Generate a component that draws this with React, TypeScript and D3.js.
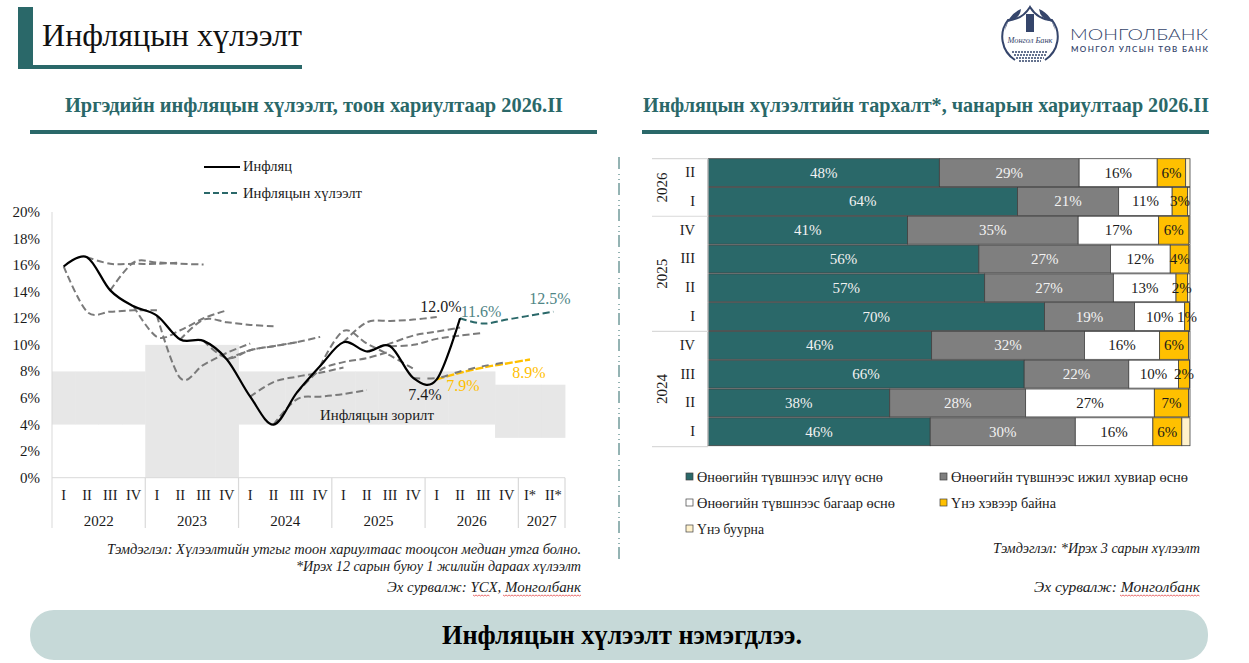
import * as d3 from 'd3';
import React, { useEffect, useRef } from 'react';

const SERIF = '"Liberation Serif", "DejaVu Serif", serif';
const TEAL = '#2a6869';

// left chart
const quarters = ['I', 'II', 'III', 'IV', 'I', 'II', 'III', 'IV', 'I', 'II', 'III', 'IV', 'I', 'II', 'III', 'IV', 'I', 'II', 'III', 'IV', 'I*', 'II*'];
const years = [
  { year: '2022', n: 4 },
  { year: '2023', n: 4 },
  { year: '2024', n: 4 },
  { year: '2025', n: 4 },
  { year: '2026', n: 4 },
  { year: '2027', n: 2 },
];
const targetLow = [4, 4, 4, 4, 0, 0, 0, 0, 4, 4, 4, 4, 4, 4, 4, 4, 4, 4, 4, 3, 3, 3];
const targetHigh = [8, 8, 8, 8, 10, 10, 10, 10, 8, 8, 8, 8, 8, 8, 8, 8, 8, 8, 8, 7, 7, 7];
const inflation = [15.9, 16.6, 14.1, 12.9, 12.2, 10.4, 10.3, 8.9, 6.1, 4.0, 6.4, 8.4, 10.2, 9.5, 9.9, 7.5, 7.4, 12.0];
// each row starts one quarter later than the one above
const pastExpectations = [
  [15.9, 12.5, 12.5, 12.6, 12.6],
  [16.6, 16.1, 16.1, 16.1, 16.2],
  [14.1, 16.2, 16.2, 16.1, 16.05],
  [12.9, 10.6, 11.1, 12.0, 12.6],
  [12.2, 7.5, 8.5, 9.4, 10.1],
  [10.4, 11.9, 11.7, 11.5, 11.4],
  [10.3, 9.0, 9.6, 9.9, 10.2],
  [8.9, 9.6, 9.9, 10.2, 10.6],
  [6.1, 7.2, 7.6, 7.9, 8.3],
  [4.0, 5.9, 6.1, 6.3, 6.6],
  [6.4, 8.1, 8.7, 9.0, 9.5],
  [8.4, 11.05, 10.1, 9.2, 8.2],
  [10.2, 11.7, 11.8, 11.9, 12.1],
  [9.5, 10.1, 10.7, 11.0, 11.3],
  [9.9, 10.0, 10.45, 10.7, 10.9],
  [7.5, 7.5, 8.0, 8.4, 8.7],
];
const yellowExpectation = [7.4, 7.9, 8.3, 8.6, 8.9];
const tealExpectation = [12.0, 11.6, 11.9, 12.2, 12.5];
const yTicks = [0, 2, 4, 6, 8, 10, 12, 14, 16, 18, 20];

// right chart, top row first
const rowYears = [
  { year: '2026', n: 2 },
  { year: '2025', n: 4 },
  { year: '2024', n: 4 },
];
const rowQuarters = ['II', 'I', 'IV', 'III', 'II', 'I', 'IV', 'III', 'II', 'I'];
const muchHigher = [48.0, 64.2, 41.4, 56.2, 57.4, 69.8, 46.4, 65.6, 37.7, 46.1];
const sameRate = [29.0, 21.0, 35.4, 27.3, 26.7, 18.7, 31.7, 21.7, 28.2, 30.1];
const lessHigher = [16.2, 11.1, 16.7, 12.4, 13.0, 10.4, 15.6, 10.3, 26.7, 16.1];
const noChange = [5.9, 3.2, 6.3, 3.9, 2.4, 1.0, 6.0, 2.3, 7.1, 6.0];
const decrease = [0.9, 0.5, 0.2, 0.2, 0.5, 0.1, 0.3, 0.1, 0.3, 1.7];
const stackKeys = ['muchHigher', 'sameRate', 'lessHigher', 'noChange', 'decrease'];
const stackColors = [TEAL, '#7f7f7f', '#ffffff', '#ffc000', '#fff2cc'];
const stackLabelColors = ['#f2f2f2', '#f2f2f2', '#1a1a1a', '#1a1a1a', 'none'];
const legendLabels = [
  'Өнөөгийн түвшнээс илүү өснө',
  'Өнөөгийн түвшнээс ижил хувиар өснө',
  'Өнөөгийн түвшнээс багаар өснө',
  'Үнэ хэвээр байна',
  'Үнэ буурна',
];

export default function App() {
  const ref = useRef<SVGSVGElement>(null);

  useEffect(() => {
    if (!ref.current) return;
    const svg = d3.select(ref.current);
    svg.selectAll('*').remove();
    svg.attr('font-family', SERIF).attr('fill', '#1a1a1a');

    const text = (
      str: string,
      x: number,
      y: number,
      size: number,
      opts: { anchor?: string; fill?: string; weight?: string; style?: string; len?: number } = {}
    ) => {
      const t = svg.append('text')
        .attr('x', x)
        .attr('y', y)
        .attr('font-size', size)
        .attr('text-anchor', opts.anchor || 'start')
        .attr('fill', opts.fill || '#1a1a1a')
        .attr('font-weight', opts.weight || 'normal')
        .attr('font-style', opts.style || 'normal')
        .text(str);
      if (opts.len) t.attr('textLength', opts.len).attr('lengthAdjust', 'spacingAndGlyphs');
      return t;
    };

    // title block
    svg.append('rect').attr('x', 18).attr('y', 7).attr('width', 15).attr('height', 62).attr('fill', TEAL);
    svg.append('rect').attr('x', 18).attr('y', 65).attr('width', 284).attr('height', 4).attr('fill', TEAL);
    text('Инфляцын хүлээлт', 42, 46, 31, { len: 260, fill: '#111' });

    // logo
    const NAVY = '#35456b';
    const logo = svg.append('g').attr('stroke', NAVY).attr('fill', 'none');
    logo.append('path')
      .attr('d', 'M1015 60 A27.5 27.5 0 0 1 1008 20 Q1022 20 1030 7 Q1038 20 1052 20 A27.5 27.5 0 0 1 1045 60')
      .attr('stroke-width', 2);
    logo.append('path')
      .attr('d', 'M1005 30 A27 27 0 0 1 1021 9 Q1020 19 1008 22 Z M1055 30 A27 27 0 0 0 1039 9 Q1040 19 1052 22 Z')
      .attr('fill', NAVY).attr('stroke', 'none');
    logo.append('rect').attr('x', 1026).attr('y', 14).attr('width', 8).attr('height', 18).attr('fill', NAVY).attr('stroke', 'none');
    logo.append('path').attr('d', 'M1012 52 H1048 M1014 55 H1046 M1016 58 H1044 M1019 61 H1041').attr('stroke-width', 1.6).attr('stroke-dasharray', '2 1');
    text('Монгол Банк', 1030, 43, 9, { anchor: 'middle', style: 'italic', fill: NAVY, len: 45 });
    svg.append('text')
      .attr('x', 1070).attr('y', 40).attr('font-family', 'Lato, sans-serif').attr('font-size', 16.5).attr('font-weight', 300)
      .attr('fill', NAVY).attr('textLength', 138).attr('lengthAdjust', 'spacingAndGlyphs').text('МОНГОЛБАНК');
    svg.append('text')
      .attr('x', 1071).attr('y', 52).attr('font-family', 'Lato, sans-serif').attr('font-size', 8).attr('font-weight', 600)
      .attr('fill', NAVY).attr('textLength', 137).attr('lengthAdjust', 'spacing').text('МОНГОЛ УЛСЫН ТӨВ БАНК');

    // section headings
    text('Иргэдийн инфляцын хүлээлт, тоон хариултаар 2026.II', 65, 112, 21, { weight: 'bold', fill: TEAL, len: 498 });
    text('Инфляцын хүлээлтийн тархалт*, чанарын хариултаар 2026.II', 643, 112, 21, { weight: 'bold', fill: TEAL, len: 566 });
    svg.append('rect').attr('x', 30).attr('y', 130).attr('width', 567).attr('height', 4).attr('fill', TEAL);
    svg.append('rect').attr('x', 642).attr('y', 130).attr('width', 567).attr('height', 4).attr('fill', TEAL);

    // divider
    svg.append('line').attr('x1', 619).attr('x2', 619).attr('y1', 157).attr('y2', 562)
      .attr('stroke', TEAL).attr('stroke-width', 1).attr('stroke-dasharray', '12 5 1 4 1 3');

    // --- left chart ---
    const x = d3.scaleBand<number>().domain(d3.range(quarters.length)).range([52, 565]);
    const y = d3.scaleLinear().domain([0, 20]).range([477.7, 212]);
    const cx = (i: number) => (x(i) as number) + x.bandwidth() / 2;

    const bands = svg.append('g').attr('fill', '#e7e7e7');
    quarters.forEach((_, i) => {
      bands.append('rect')
        .attr('x', x(i) as number)
        .attr('y', y(targetHigh[i]))
        .attr('width', x.bandwidth() + 0.4)
        .attr('height', y(targetLow[i]) - y(targetHigh[i]));
    });

    const axisGrey = '#d9d9d9';
    svg.append('line').attr('x1', 52).attr('x2', 52).attr('y1', 212).attr('y2', 528).attr('stroke', axisGrey);
    svg.append('line').attr('x1', 52).attr('x2', 565).attr('y1', 477.7).attr('y2', 477.7).attr('stroke', axisGrey);
    yTicks.forEach(t => {
      text(`${t}%`, 40, y(t) + 5, 15, { anchor: 'end' });
    });
    quarters.forEach((q, i) => {
      text(q, cx(i), 500, 14.5, { anchor: 'middle' });
    });
    let pos = 0;
    years.forEach(({ year, n }) => {
      const left = x(pos) as number;
      const right = left + n * x.bandwidth();
      svg.append('line').attr('x1', right).attr('x2', right).attr('y1', 477.7).attr('y2', 528).attr('stroke', axisGrey).attr('stroke-width', 1.2);
      text(year, (left + right) / 2, 526, 15, { anchor: 'middle' });
      pos += n;
    });

    const path = (values: number[], start: number) =>
      d3.line<number>()
        .x((_, i) => cx(start + i))
        .y(d => y(d))
        .curve(d3.curveCardinal.tension(0))(values) as string;

    svg.append('path').attr('d', path(yellowExpectation, 16)).attr('fill', 'none')
      .attr('stroke', '#ffc000').attr('stroke-width', 2.4).attr('stroke-dasharray', '8 2');
    pastExpectations.forEach((vals, i) => {
      // the last one runs on top of the yellow line, so it is left more open
      svg.append('path').attr('d', path(vals, i)).attr('fill', 'none')
        .attr('stroke', '#7a7a7a').attr('stroke-width', 2)
        .attr('stroke-dasharray', i === pastExpectations.length - 1 ? '7 7' : '7 3.5');
    });
    svg.append('path').attr('d', path(tealExpectation, 17)).attr('fill', 'none')
      .attr('stroke', TEAL).attr('stroke-width', 2).attr('stroke-dasharray', '7 3.5');
    svg.append('path').attr('d', path(inflation, 0)).attr('fill', 'none')
      .attr('stroke', '#000').attr('stroke-width', 2.2);

    // legend
    svg.append('line').attr('x1', 204).attr('x2', 240).attr('y1', 167).attr('y2', 167).attr('stroke', '#000').attr('stroke-width', 2.2);
    svg.append('line').attr('x1', 204).attr('x2', 240).attr('y1', 193).attr('y2', 193).attr('stroke', TEAL).attr('stroke-width', 2).attr('stroke-dasharray', '6 3');
    text('Инфляц', 243, 171, 15.5, { len: 49 });
    text('Инфляцын хүлээлт', 243, 198, 15.5, { len: 119 });

    // callouts
    text('12.0%', 441, 312, 16, { anchor: 'middle' });
    text('11.6%', 481, 317, 16, { anchor: 'middle', fill: '#4f8586' });
    text('12.5%', 550, 304, 16, { anchor: 'middle', fill: '#4f8586' });
    text('7.4%', 425, 400, 16, { anchor: 'middle' });
    text('7.9%', 463, 391, 16, { anchor: 'middle', fill: '#ffc000' });
    text('8.9%', 529, 378, 16, { anchor: 'middle', fill: '#ffc000' });
    text('Инфляцын зорилт', 377, 420, 15.5, { anchor: 'middle', len: 114 });

    // notes left
    text('Тэмдэглэл: Хүлээлтийн утгыг тоон хариултаас тооцсон медиан утга болно.', 581, 554, 14.5, { anchor: 'end', style: 'italic', len: 474 });
    text('*Ирэх 12 сарын буюу 1 жилийн дараах хүлээлт', 581, 571, 14.5, { anchor: 'end', style: 'italic', len: 285 });
    text('Эх сурвалж: ҮСХ, Монголбанк', 581, 592, 14.5, { anchor: 'end', style: 'italic', len: 194 });

    // --- right chart ---
    const rows = d3.range(rowQuarters.length).map(i => ({
      muchHigher: muchHigher[i],
      sameRate: sameRate[i],
      lessHigher: lessHigher[i],
      noChange: noChange[i],
      decrease: decrease[i],
    }));
    const stack = d3.stack<any>().keys(stackKeys)(rows);
    const bx = d3.scaleLinear().domain([0, 100]).range([708, 1190]);
    const by = d3.scaleBand<number>().domain(d3.range(rowQuarters.length)).range([158.7, 445.7]).paddingInner(0.03).paddingOuter(0);

    stack.forEach((series, s) => {
      const g = svg.append('g');
      series.forEach((d, i) => {
        g.append('rect')
          .attr('x', bx(d[0]))
          .attr('y', by(i) as number)
          .attr('width', bx(d[1]) - bx(d[0]))
          .attr('height', by.bandwidth())
          .attr('fill', stackColors[s])
          .attr('stroke', '#404040')
          .attr('stroke-width', 0.8);
      });
    });
    stack.forEach((series, s) => {
      if (stackLabelColors[s] === 'none') return;
      series.forEach((d, i) => {
        text(`${Math.round(d[1] - d[0])}%`, (bx(d[0]) + bx(d[1])) / 2, (by(i) as number) + by.bandwidth() / 2 + 5, 15, {
          anchor: 'middle',
          fill: stackLabelColors[s],
        });
      });
    });

    const rowStep = by.step();
    svg.append('line').attr('x1', 708).attr('x2', 708).attr('y1', 158.7).attr('y2', 445.7).attr('stroke', axisGrey);
    rowQuarters.forEach((q, i) => {
      text(q, 695, (by(i) as number) + rowStep / 2 + 4, 14.5, { anchor: 'end' });
    });
    let rowPos = 0;
    svg.append('line').attr('x1', 652).attr('x2', 708).attr('y1', 158.7).attr('y2', 158.7).attr('stroke', axisGrey).attr('stroke-width', 1.2);
    rowYears.forEach(({ year, n }) => {
      const top = 158.7 + rowPos * rowStep;
      const bottom = top + n * rowStep;
      svg.append('line').attr('x1', 652).attr('x2', 708).attr('y1', bottom).attr('y2', bottom).attr('stroke', axisGrey).attr('stroke-width', 1.2);
      svg.append('text')
        .attr('transform', `translate(667,${(top + bottom) / 2}) rotate(-90)`)
        .attr('text-anchor', 'middle')
        .attr('font-size', 15)
        .attr('fill', '#1a1a1a')
        .text(year);
      rowPos += n;
    });

    // legend right
    const legendCols = [686, 940];
    const legendRows = [477, 503, 529];
    const legendLen = [186, 237, 198, 105, 67];
    legendLabels.forEach((label, i) => {
      const lx = legendCols[i % 2];
      const ly = legendRows[Math.floor(i / 2)];
      svg.append('rect').attr('x', lx).attr('y', ly - 4).attr('width', 7).attr('height', 7)
        .attr('fill', stackColors[i]).attr('stroke', '#404040').attr('stroke-width', 0.7);
      text(label, lx + 11, ly + 4.5, 14, { len: legendLen[i] });
    });

    text('Тэмдэглэл: *Ирэх 3 сарын хүлээлт', 1200, 553, 14.5, { anchor: 'end', style: 'italic', len: 207 });
    text('Эх сурвалж: Монголбанк', 1200, 592, 14.5, { anchor: 'end', style: 'italic', len: 166 });

    // spell-check squiggles under the source lines
    const squiggle = (x0: number, x1: number, yy: number) => {
      const pts = d3.range(x0, x1 + 0.1, 1.5).map((px, i) => [px, yy + (i % 2)] as [number, number]);
      svg.append('path').attr('d', d3.line()(pts) as string).attr('fill', 'none').attr('stroke', '#e03030').attr('stroke-width', 0.7);
    };
    squiggle(473, 490, 595);
    squiggle(503, 582, 595);
    squiggle(1120, 1200, 595);

    // takeaway banner
    svg.append('rect').attr('x', 30).attr('y', 610).attr('width', 1178).attr('height', 50).attr('rx', 24).attr('fill', '#c6d9d8');
    text('Инфляцын хүлээлт нэмэгдлээ.', 622, 644, 27, { anchor: 'middle', weight: 'bold', fill: '#000', len: 360 });
  }, []);

  return <svg ref={ref} width={1249} height={663} style={{ position: 'absolute', left: 0, top: 0, display: 'block' }} />;
}
